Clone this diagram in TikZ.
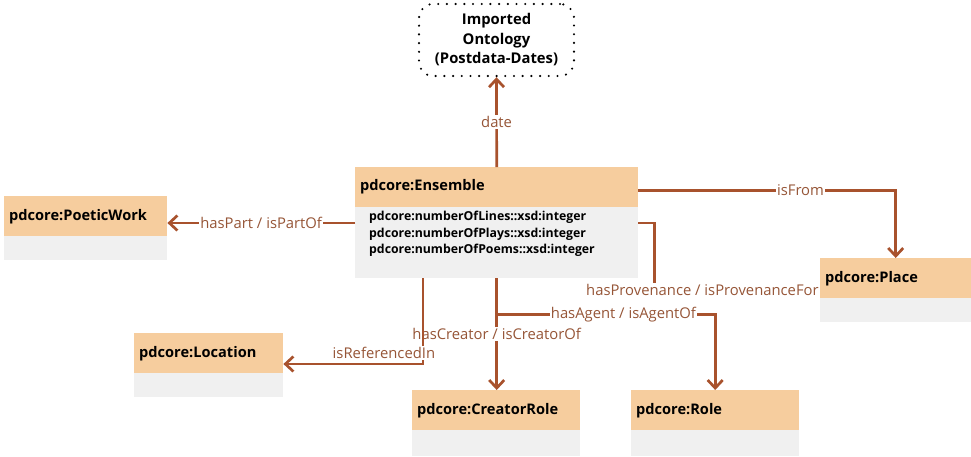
\documentclass[tikz,border=0pt]{standalone}
\usepackage{fontspec}
\setmainfont{Open Sans}
\usetikzlibrary{arrows.meta}
\definecolor{hdrc}{RGB}{246,205,158}
\definecolor{bodyc}{RGB}{240,240,240}
\definecolor{conn}{RGB}{168,82,45}
\definecolor{lblc}{RGB}{150,85,55}
\begin{document}
\begin{tikzpicture}[x=1pt,y=-1pt,
  hdr/.style={fill=hdrc, anchor=north west, inner ysep=0pt, inner xsep=5pt,
    minimum height=40pt, align=left, text width=#1,
    font=\bfseries\fontsize{14.6}{16}\selectfont},
  bodybox/.style={fill=bodyc, anchor=north west, inner sep=0pt},
  cline/.style={draw=conn, line width=2.7pt},
  arr/.style={-{Straight Barb[length=8pt,width=15pt,line width=2.7pt]}},
  lbl/.style={fill=white, text=lblc, inner xsep=1pt, inner ysep=1pt,
    font=\fontsize{14.8}{16}\selectfont},
  attr/.style={anchor=north west, align=left, inner sep=0pt,
    font=\bfseries\fontsize{12.3}{16.5}\selectfont},
  ontbox/.style={draw, dotted, line width=2.4pt, rounded corners=14pt,
    dash pattern=on 0pt off 8.7pt, line cap=round, minimum width=155pt,
    minimum height=72pt, align=center, font=\bfseries\fontsize{14.8}{19.5}\selectfont}
]
\useasboundingbox (0,0) rectangle (971,456);

% classes
\node[hdr=273pt] (ens) at (355,167) {pdcore:Ensemble};
\node[bodybox, minimum width=283pt, minimum height=71pt] (ensb) at (355,207) {};
\node[attr] (ensa) at (369,211) {pdcore:numberOfLines::xsd:integer\\pdcore:numberOfPlays::xsd:integer\\pdcore:numberOfPoems::xsd:integer};

\node[hdr=153pt] (pw) at (4,196) {pdcore:PoeticWork};
\node[bodybox, minimum width=163pt, minimum height=24pt] (pwb) at (4,236) {};

\node[hdr=141pt] (pl) at (820,258) {pdcore:Place};
\node[bodybox, minimum width=151pt, minimum height=24pt] (plb) at (820,298) {};

\node[hdr=139pt] (loc) at (134,333) {pdcore:Location};
\node[bodybox, minimum width=149pt, minimum height=24pt] (locb) at (134,373) {};

\node[hdr=158pt] (cr) at (412,390) {pdcore:CreatorRole};
\node[bodybox, minimum width=168pt, minimum height=26pt] (crb) at (412,430) {};

\node[hdr=158pt] (ro) at (631,390) {pdcore:Role};
\node[bodybox, minimum width=168pt, minimum height=26pt] (rob) at (631,430) {};

\node[ontbox] (ont) at (496.5,40) {Imported\\Ontology\\(Postdata-Dates)};

% connectors
\draw[cline, arr] (ens.north) -- (ont.south) node[lbl, midway] {date};

\coordinate (a1) at ([yshift=-16pt]ensb.north west);
\draw[cline, arr] (a1) -- (a1 -| pw.east) node[lbl, midway] {hasPart / isPartOf};

\coordinate (a2) at ([yshift=-3pt]ens.east);
\draw[cline, arr] (a2) -- (a2 -| pl.north) node[lbl, pos=0.63] {isFrom} -- (pl.north);

\coordinate (a3) at ([yshift=-16pt]ensb.north east);
\draw[cline] (a3) -- ++(16,0) |- ([xshift=-8pt,yshift=-32pt]pl.north west)
  node[lbl, pos=1, anchor=east, xshift=8pt, inner xsep=0pt] {hasProvenance / isProvenanceFor};

\draw[cline, arr] (ensb.south) -- (ensb.south |- cr.north)
  node[lbl, midway] {hasCreator / isCreatorOf};

\coordinate (a4) at ([yshift=-36pt]ensb.south);
\draw[cline, arr] (a4) -| (ro.north) node[lbl, pos=0.29] {hasAgent / isAgentOf};

\coordinate (a5) at ([xshift=68pt]ensb.south west);
\draw[cline, arr] (a5) |- ([yshift=-31pt]loc.north east)
  node[lbl, pos=0.64, yshift=11pt] {isReferencedIn};
\end{tikzpicture}
\end{document}
